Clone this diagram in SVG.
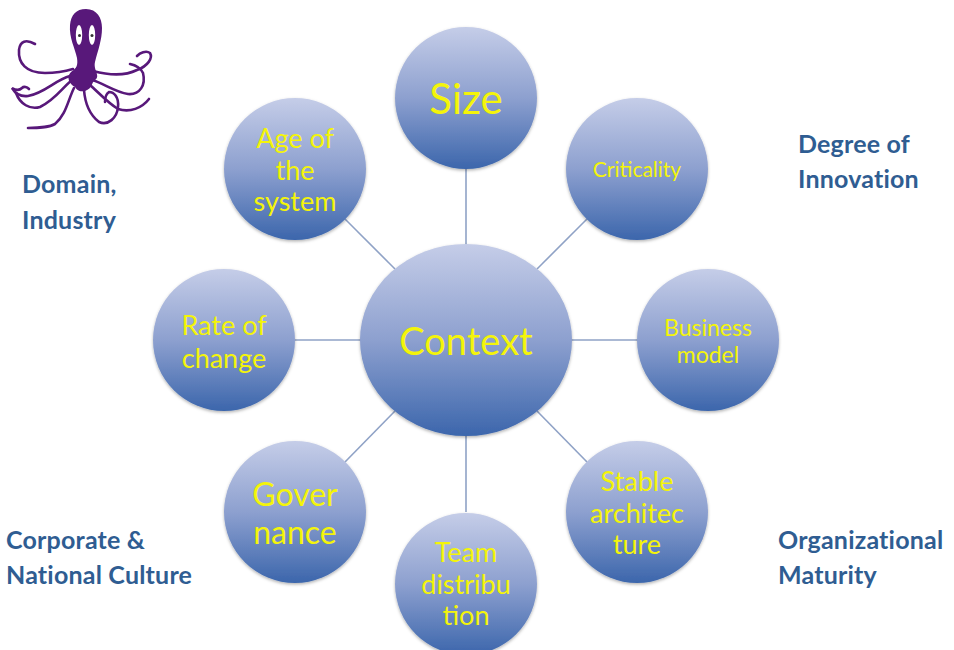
<svg xmlns="http://www.w3.org/2000/svg" width="954" height="650" viewBox="0 0 954 650">
<style>
.n{fill:url(#g);filter:url(#s)}
.c{stroke:#8fa2c6;stroke-width:1.6;fill:none}
text{font-family:Lato,"Open Sans",sans-serif;text-anchor:middle}
.y{fill:#f4f40a}
.l{fill:#2f5d92;font-weight:700;font-size:25px;text-anchor:start;letter-spacing:.2px}
.a{fill:none;stroke:#58187a;stroke-width:2.6;stroke-linecap:round}
</style>
<defs>
<linearGradient id="g" x1="0" y1="0" x2="0" y2="1"><stop offset="0" stop-color="#c5cde8"/><stop offset=".5" stop-color="#8da0cf"/><stop offset="1" stop-color="#3c66ac"/></linearGradient>
<filter id="s" x="-10%" y="-10%" width="120%" height="120%"><feDropShadow dx="0" dy="1.5" stdDeviation="1.5" flood-color="#000" flood-opacity=".3"/></filter>
</defs>
<rect width="954" height="650" fill="#fff"/>
<g id="connectors">
<line class="c" x1="466" y1="168" x2="466" y2="246"/>
<line class="c" x1="587" y1="219" x2="537" y2="269"/>
<line class="c" x1="638" y1="340" x2="571" y2="340"/>
<line class="c" x1="587" y1="462" x2="537" y2="411"/>
<line class="c" x1="466" y1="512" x2="466" y2="436"/>
<line class="c" x1="345" y1="462" x2="395" y2="411"/>
<line class="c" x1="295" y1="340" x2="361" y2="340"/>
<line class="c" x1="345" y1="219" x2="395" y2="269"/>
</g>
<g id="octopus">
<path d="M86 9C97 9 102 18 102 28C102 40 98 50 95 62C93 70 101 76 95 80C91 83 93 88 85 91C79 92 77 90 75 87C69 84 66 77 71 72C77 68 78 65 77 58C75 48 69 38 70 25C71 15 76 9 86 9Z" fill="#58187a"/>
<ellipse cx="79" cy="35" rx="3.2" ry="10" fill="#fff"/><ellipse cx="92" cy="35" rx="3.2" ry="10" fill="#fff"/>
<circle cx="79.500" cy="35.500" r="1.500" fill="#333"/><circle cx="92" cy="35.500" r="1.500" fill="#333"/>
<path class="a" d="M35 44C26 39 20 41 19 50C18 63 26 73 45 73C55 73 63 72 73 69"/>
<path class="a" d="M70 76C55 80 45 93 28 96C20 97 15 93 12 88C17 91 20 90 22 88C24 86 27 87 29 89"/>
<path class="a" d="M72 80C62 88 55 100 40 107C30 110 20 104 16 93"/>
<path class="a" d="M74 88C68 100 66 115 55 124C48 128 38 128 28 128"/>
<path class="a" d="M84 90C85 103 90 115 99 122C108 126 117 118 118 107C119 97 114 92 109 92C106 94 105 98 105 102"/>
<path class="a" d="M90 85C98 92 108 103 118 109C130 113 142 108 149 99"/>
<path class="a" d="M92 80C103 83 115 92 128 94C140 95 146 85 143 73C140 67 135 65 130 64"/>
<path class="a" d="M93 71C108 75 125 76 137 70C148 66 153 58 150 53C146 50 140 53 137 56"/>
</g>
<g id="size"><circle class="n" cx="466" cy="98" r="71"/><text class="y" x="466" y="114" font-size="42">Size</text></g>
<g id="criticality"><circle class="n" cx="637" cy="169" r="71"/><text class="y" x="637" y="177" font-size="21">Criticality</text></g>
<g id="business-model"><circle class="n" cx="708" cy="340" r="71"/><text class="y" x="708" y="336" font-size="23">Business</text><text class="y" x="708" y="363" font-size="23">model</text></g>
<g id="stable-architecture"><circle class="n" cx="637" cy="512" r="71"/><text class="y" font-size="27" x="637" y="491">Stable</text><text class="y" font-size="27" x="637" y="523">architec</text><text class="y" font-size="27" x="637" y="554">ture</text></g>
<g id="team-distribution"><circle class="n" cx="466" cy="584" r="71"/><text class="y" font-size="27" x="466" y="562">Team</text><text class="y" font-size="27" x="466" y="594">distribu</text><text class="y" font-size="27" x="466" y="625">tion</text></g>
<g id="governance"><circle class="n" cx="295" cy="512" r="71"/><text class="y" font-size="32" x="295" y="506">Gover</text><text class="y" font-size="32" x="295" y="544">nance</text></g>
<g id="rate-of-change"><circle class="n" cx="224" cy="340" r="71"/><text class="y" font-size="27" x="224" y="335">Rate of</text><text class="y" font-size="27" x="224" y="368">change</text></g>
<g id="age-of-the-system"><circle class="n" cx="295" cy="169" r="71"/><text class="y" font-size="27" x="295" y="148">Age of</text><text class="y" font-size="27" x="295" y="180">the</text><text class="y" font-size="27" x="295" y="211">system</text></g>
<g id="context"><ellipse class="n" cx="466" cy="340" rx="106" ry="96"/><text class="y" x="466" y="355" font-size="38">Context</text></g>
<g id="labels">
<text class="l" x="22" y="193">Domain,</text><text class="l" x="22" y="229">Industry</text>
<text class="l" x="798" y="153">Degree of</text><text class="l" x="798" y="188">Innovation</text>
<text class="l" x="6" y="549">Corporate &amp;</text><text class="l" x="6" y="584">National Culture</text>
<text class="l" x="778" y="549">Organizational</text><text class="l" x="778" y="584">Maturity</text>
</g>
</svg>
